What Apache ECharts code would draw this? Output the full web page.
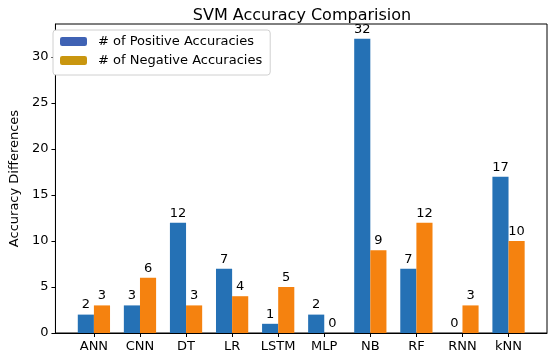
<!DOCTYPE html>
<html>
<head>
<meta charset="utf-8">
<script src="https://cdn.jsdelivr.net/npm/echarts@6/dist/echarts.min.js"></script>
<style>html,body{margin:0;padding:0;background:#fff}#c{width:550px;height:357px}</style>
</head>
<body>
<div id="c"></div>
<script>
const categories = ['ANN','CNN','DT','LR','LSTM','MLP','NB','RF','RNN','kNN'];
const positive = [2,3,12,7,1,2,32,7,0,17];
const negative = [3,6,3,4,5,0,9,12,3,10];
const yTicks = [0,5,10,15,20,25,30];
const seriesNames = ['# of Positive Accuracies', '# of Negative Accuracies'];

const font = 'DejaVu Sans';
const chart = echarts.init(document.getElementById('c'), null, {renderer:'canvas'});
const xIdx = categories.map((_, i) => i);
const labelCfg = {show:true, position:'top', distance:3, color:'#000', fontFamily:font, fontSize:13};
chart.setOption({
  animation:false,
  backgroundColor:'#fff',
  title:{text:'SVM Accuracy Comparision', left:297, top:3, textAlign:'center',
    textStyle:{fontFamily:font, fontSize:16, fontWeight:'normal', color:'#000'}},
  grid:{left:48, right:3, top:24, bottom:24, show:true, borderColor:'#000', borderWidth:1, backgroundColor:'transparent'},
  legend:{orient:'vertical', left:53, top:30, padding:[5,8,8,7], itemGap:6,
    itemWidth:27, itemHeight:9, backgroundColor:'#fff', borderColor:'#d0d0d0', borderWidth:1, borderRadius:3,
    textStyle:{fontFamily:font, fontSize:13, color:'#000', padding:[0,0,0,6]},
    data:[{name:seriesNames[0], itemStyle:{color:'#3f62b4'}}, {name:seriesNames[1], itemStyle:{color:'#c9960f'}}]},
  xAxis:{type:'value', min:-0.835, max:9.835,
    axisLine:{show:true, onZero:false, lineStyle:{color:'#000'}},
    axisTick:{show:true, length:4, customValues:xIdx, lineStyle:{color:'#000'}},
    axisLabel:{customValues:xIdx, formatter:v => categories[Math.round(v)], color:'#000', fontFamily:font, fontSize:13, margin:7},
    splitLine:{show:false}},
  yAxis:{type:'value', min:0, max:33.6,
    name:'Accuracy Differences', nameLocation:'middle', nameGap:32,
    nameTextStyle:{fontFamily:font, fontSize:13, color:'#000'},
    axisLine:{show:true, onZero:false, lineStyle:{color:'#000'}},
    axisTick:{show:true, length:4, customValues:yTicks, lineStyle:{color:'#000'}},
    axisLabel:{customValues:yTicks, color:'#000', fontFamily:font, fontSize:13, margin:7},
    splitLine:{show:false}},
  series:[
    {name:seriesNames[0], type:'bar', barWidth:'35%', barGap:'0%', itemStyle:{color:'#2571b5'},
     data:positive.map((v,i)=>[i,v]), label:Object.assign({formatter:p=>p.value[1]}, labelCfg)},
    {name:seriesNames[1], type:'bar', barWidth:'35%', barGap:'0%', itemStyle:{color:'#f5820f'},
     data:negative.map((v,i)=>[i,v]), label:Object.assign({formatter:p=>p.value[1]}, labelCfg)}
  ]
});
</script>
</body>
</html>
